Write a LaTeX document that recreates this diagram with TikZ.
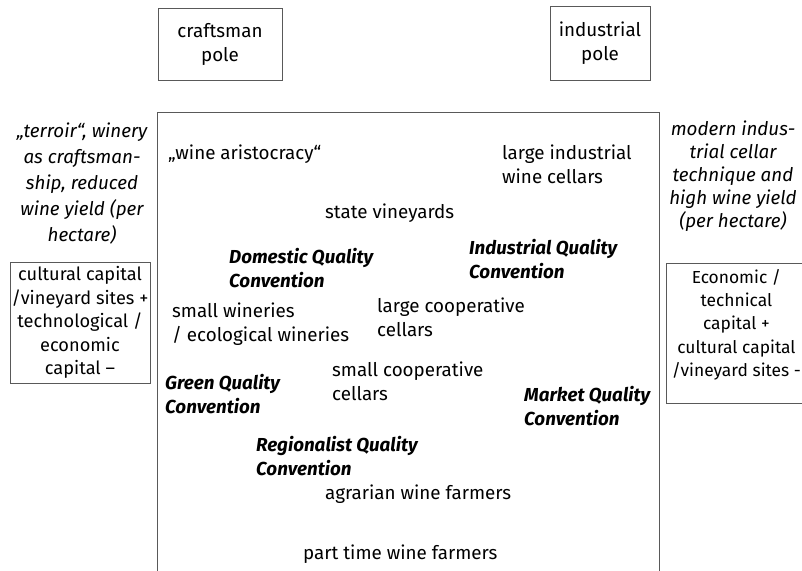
\documentclass[tikz,border=0pt]{standalone}
\usepackage{fontspec}
\setmainfont{Fira Sans}
\begin{document}
\begin{tikzpicture}[x=1pt,y=-1pt,
  every node/.style={font=\fontsize{18.8}{24}\selectfont},
  lbl/.style={anchor=north west, inner sep=0pt, align=left},
  conv/.style={lbl, font=\fontsize{18.8}{24.5}\selectfont\bfseries\itshape},
  frame/.style={draw=black!65, line width=0.8pt},
  box/.style={frame, align=center, inner sep=0pt},
  note/.style={align=center, inner sep=0pt, font=\fontsize{18.8}{26}\selectfont\itshape}]
\useasboundingbox (0,0) rectangle (802,570);
\clip (0,0) rectangle (802,570);
% poles
\node[box, minimum width=124pt, minimum height=72pt] (craft) at (220,44) {craftsman\\pole};
\node[box, minimum width=100pt, minimum height=74pt] (indus) at (600,43) {industrial\\pole};
% field
\node[frame, minimum width=502pt, minimum height=480pt, anchor=north west, inner sep=0pt] (field) at (157,112) {};
% left side
\node[note] (lnote) at (82,184) {„terroir“, winery\\as craftsman-\\ship, reduced\\wine yield (per\\hectare)};
\node[box, minimum width=140pt, minimum height=121pt, font=\fontsize{18.2}{23.6}\selectfont] (lbox) at (80,322.5) {cultural capital\\/vineyard sites +\\technological /\\economic\\capital –};
% right side
\node[note, font=\fontsize{18.8}{23}\selectfont\itshape] (rnote) at (733,176) {modern indus-\\trial cellar\\technique and\\high wine yield\\(per hectare)};
\node[box, minimum width=140pt, minimum height=140pt, anchor=north west, font=\fontsize{17.4}{23.3}\selectfont] (rbox) at (666,263) {Economic /\\technical\\capital +\\cultural capital\\/vineyard sites -\\[-2pt]\mbox{}};
% inside labels
\node[lbl] (aris) at (168,145) {„wine aristocracy“};
\node[lbl] (lic) at (502,145) {large industrial\\wine cellars};
\node[lbl] (state) at (325,204) {state vineyards};
\node[conv] (dqc) at (229,248) {Domestic Quality\\Convention};
\node[conv] (iqc) at (469,239) {Industrial Quality\\Convention};
\node[lbl] (sw) at (172,303) {small wineries\\/ ecological wineries};
\node[lbl] (lcc) at (377,298) {large cooperative\\cellars};
\node[lbl] (scc) at (332,362) {small cooperative\\cellars};
\node[conv] (gqc) at (165,374) {Green Quality\\Convention};
\node[conv] (mqc) at (524,386) {Market Quality\\Convention};
\node[conv] (rqc) at (256,436) {Regionalist Quality\\Convention};
\node[lbl] (awf) at (325,485) {agrarian wine farmers};
\node[lbl] (ptwf) at (303,545) {part time wine farmers};
\end{tikzpicture}
\end{document}
